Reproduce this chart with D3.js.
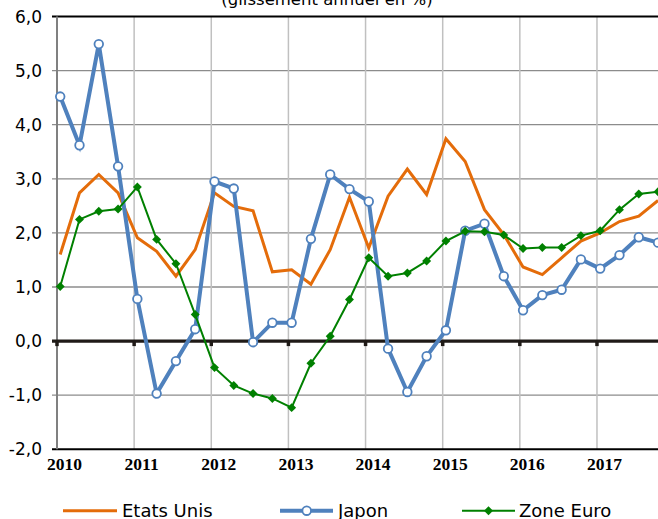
<!DOCTYPE html>
<html>
<head>
<meta charset="utf-8">
<script src="https://cdn.jsdelivr.net/npm/d3@7"></script>
<style>
body { margin:0; background:#fff; }
text { font-family:"DejaVu Sans", Verdana, sans-serif; }
</style>
</head>
<body>
<svg id="graph"></svg>
<script>
var years = [2010,2011,2012,2013,2014,2015,2016,2017]
var yTicks = [-2,-1,0,1,2,3,4,5,6]

// quarterly points, 2010 T1 to 2017 T4
var etatsUnis = [1.60,2.74,3.08,2.74,1.91,1.66,1.20,1.69,2.74,2.49,2.41,1.28,1.32,1.05,1.69,2.66,
                 1.72,2.68,3.18,2.71,3.74,3.32,2.43,1.97,1.37,1.23,1.54,1.85,2.00,2.21,2.31,2.60]
var japon = [4.52,3.62,5.49,3.23,0.78,-0.97,-0.37,0.22,2.95,2.82,-0.02,0.34,0.34,1.89,3.08,2.81,
             2.58,-0.14,-0.94,-0.28,0.20,2.04,2.17,1.20,0.57,0.85,0.95,1.51,1.34,1.59,1.92,1.82]
var zoneEuro = [1.01,2.25,2.40,2.44,2.85,1.88,1.43,0.49,-0.49,-0.82,-0.97,-1.06,-1.23,-0.41,0.09,0.77,
                1.54,1.20,1.26,1.48,1.85,2.03,2.02,1.96,1.71,1.73,1.73,1.95,2.04,2.43,2.72,2.76]

var screen = {width:658,height:519}
var plot = {left:57,right:658,top:16.5,bottom:449.3}

var svg = d3.select("#graph")
    .attr("width",screen.width)
    .attr("height",screen.height)

var xscale = d3.scaleLinear()
    .domain([2010,2018])
    .range([plot.left,plot.left+8*77.14])

var yscale = d3.scaleLinear()
    .domain([-2,6])
    .range([plot.bottom,plot.top])

var quarterX = function(d,i)
{
    return xscale(2010 + (i*3+0.5)/12)
}

// title (cut at top)
svg.append("text")
    .attr("x",327)
    .attr("y",4.5)
    .attr("text-anchor","middle")
    .style("font-size","16.5px")
    .text("(glissement annuel en %)")

// horizontal grid
svg.append("g")
    .selectAll("line")
    .data(yTicks.filter(function(t){ return t!=0 && t!=-2 && t!=6 }))
    .enter()
    .append("line")
    .attr("x1",plot.left-5)
    .attr("x2",plot.right)
    .attr("y1",function(t){ return yscale(t) })
    .attr("y2",function(t){ return yscale(t) })
    .attr("stroke","#8c8c8c")
    .attr("stroke-width",1.3)

// vertical grid
svg.append("g")
    .selectAll("line")
    .data(years.slice(1))
    .enter()
    .append("line")
    .attr("x1",function(y){ return xscale(y) })
    .attr("x2",function(y){ return xscale(y) })
    .attr("y1",plot.top)
    .attr("y2",plot.bottom)
    .attr("stroke","#c0c0c0")
    .attr("stroke-width",1.5)

// top & bottom borders
svg.append("line")
    .attr("x1",plot.left-5).attr("x2",plot.right)
    .attr("y1",yscale(6)).attr("y2",yscale(6))
    .attr("stroke","#000").attr("stroke-width",2)
svg.append("line")
    .attr("x1",plot.left-5).attr("x2",plot.right)
    .attr("y1",yscale(-2)).attr("y2",yscale(-2))
    .attr("stroke","#000").attr("stroke-width",2)

// left axis
svg.append("line")
    .attr("x1",plot.left).attr("x2",plot.left)
    .attr("y1",plot.top).attr("y2",plot.bottom)
    .attr("stroke","#808080").attr("stroke-width",2)

// y labels
svg.append("g")
    .selectAll("text")
    .data(yTicks)
    .enter()
    .append("text")
    .attr("x",42)
    .attr("y",function(t){ return yscale(t)+6 })
    .attr("text-anchor","end")
    .style("font-size","17px")
    .text(function(t){ return t.toFixed(1).replace(".",",") })

// zero line with year ticks
svg.append("line")
    .attr("x1",plot.left-5).attr("x2",plot.right)
    .attr("y1",yscale(0)).attr("y2",yscale(0))
    .attr("stroke","#1f1a17").attr("stroke-width",3.2)
svg.append("g")
    .selectAll("line")
    .data(years)
    .enter()
    .append("line")
    .attr("x1",function(y){ return xscale(y) })
    .attr("x2",function(y){ return xscale(y) })
    .attr("y1",yscale(0))
    .attr("y2",yscale(0)+5)
    .attr("stroke","#1f1a17")
    .attr("stroke-width",3.5)

// year labels
svg.append("g")
    .selectAll("text")
    .data(years)
    .enter()
    .append("text")
    .attr("x",function(y){ return xscale(y)+7.5 })
    .attr("y",470)
    .attr("text-anchor","middle")
    .style("font-family","'Liberation Serif','Times New Roman',serif")
    .style("font-weight","bold")
    .style("font-size","17.5px")
    .text(function(y){ return y })

var line = d3.line()
    .x(quarterX)
    .y(function(d){ return yscale(d) })

svg.append("path")
    .datum(etatsUnis)
    .attr("d",line)
    .attr("fill","none")
    .attr("stroke","#E46C0A")
    .attr("stroke-width",3)

svg.append("path")
    .datum(japon)
    .attr("d",line)
    .attr("fill","none")
    .attr("stroke","#4F81BD")
    .attr("stroke-width",4)

svg.append("g")
    .selectAll("circle")
    .data(japon)
    .enter()
    .append("circle")
    .attr("cx",quarterX)
    .attr("cy",function(d){ return yscale(d) })
    .attr("r",4.3)
    .attr("fill","#fff")
    .attr("stroke","#4F81BD")
    .attr("stroke-width",1.8)

svg.append("path")
    .datum(zoneEuro)
    .attr("d",line)
    .attr("fill","none")
    .attr("stroke","#008000")
    .attr("stroke-width",2)

var diamond = d3.symbol().type(d3.symbolSquare).size(40)

svg.append("g")
    .selectAll("path")
    .data(zoneEuro)
    .enter()
    .append("path")
    .attr("d",diamond)
    .attr("transform",function(d,i){ return "translate("+quarterX(d,i)+","+yscale(d)+") rotate(45)" })
    .attr("fill","#008000")

// legend
var legendY = 510.7
var legend = svg.append("g")

legend.append("line")
    .attr("x1",63).attr("x2",117).attr("y1",legendY).attr("y2",legendY)
    .attr("stroke","#E46C0A").attr("stroke-width",3)
legend.append("text")
    .attr("x",122).attr("y",517)
    .style("font-size","18px")
    .text("Etats Unis")

legend.append("line")
    .attr("x1",280).attr("x2",333).attr("y1",legendY).attr("y2",legendY)
    .attr("stroke","#4F81BD").attr("stroke-width",4)
legend.append("circle")
    .attr("cx",306.7).attr("cy",legendY).attr("r",4.3)
    .attr("fill","#fff").attr("stroke","#4F81BD").attr("stroke-width",1.8)
legend.append("text")
    .attr("x",338).attr("y",517)
    .style("font-size","18px")
    .text("Japon")

legend.append("line")
    .attr("x1",462).attr("x2",515).attr("y1",legendY).attr("y2",legendY)
    .attr("stroke","#008000").attr("stroke-width",2)
legend.append("path")
    .attr("d",diamond)
    .attr("transform","translate(488.5,"+legendY+") rotate(45)")
    .attr("fill","#008000")
legend.append("text")
    .attr("x",519).attr("y",517)
    .style("font-size","18px")
    .text("Zone Euro")
</script>
</body>
</html>
